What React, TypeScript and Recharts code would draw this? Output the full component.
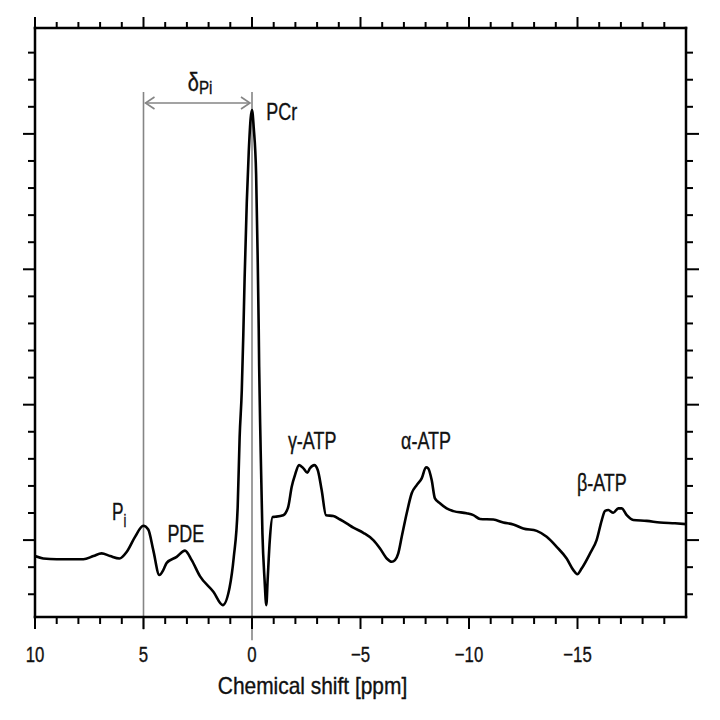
import React from 'react';
import { LineChart, Line, XAxis, YAxis, ReferenceLine, ReferenceDot, Label } from 'recharts';

// Chemical shift (ppm) and signal (arbitrary units, 1 unit = one minor y tick)
const shiftPpm = [
  10.0, 9.62, 9.0, 7.77, 7.31, 6.93, 6.54, 6.11, 5.77, 5.39, 5.01, 4.78, 4.55, 4.27, 4.09, 3.93,
  3.47, 3.09, 2.78, 2.4, 1.78, 1.35, 1.03, 0.84, 0.66, 0.57, 0.47, 0.4, 0.34, 0.24, 0.15, 0.06,
  0.0, -0.08, -0.19, -0.26, -0.31, -0.33, -0.39, -0.48, -0.58, -0.66, -0.72, -0.82, -0.95, -1.06,
  -1.44, -1.67, -1.83, -1.98, -2.17, -2.37, -2.55, -2.67, -2.87, -3.03, -3.21, -3.41, -3.75, -4.06,
  -4.36, -4.67, -5.13, -5.59, -5.9, -6.21, -6.44, -6.59, -6.74, -6.9, -7.13, -7.36, -7.59, -7.82,
  -8.02, -8.12, -8.28, -8.43, -8.66, -8.97, -9.28, -9.89, -10.2, -10.51, -11.12, -11.58, -12.04,
  -12.5, -13.12, -13.58, -14.04, -14.5, -14.81, -14.99, -15.19, -15.58, -15.88, -16.12, -16.27,
  -16.42, -16.65, -16.88, -17.04, -17.27, -17.57, -18.19, -18.8, -19.49, -20.0,
];
const signal = [
  -0.59, -0.68, -0.71, -0.71, -0.59, -0.49, -0.59, -0.68, -0.43, 0.12, 0.53, 0.39, -0.37, -1.29, -1.11, -0.84,
  -0.62, -0.39, -0.74, -1.33, -1.91, -2.4, -1.74, -0.63, 1.22, 3.8, 5.54, 7.6, 9.68, 12.49, 14.33, 15.59,
  15.88, 15.22, 13.5, 10.5, 7.8, 6.4, 3.7, 0.26, -1.48, -2.4, -1.48, 0.0, 0.85, 0.86,
  0.92, 1.23, 1.97, 2.4, 2.77, 2.65, 2.49, 2.65, 2.77, 2.59, 1.85, 0.92, 0.89, 0.76,
  0.62, 0.46, 0.27, 0.0, -0.31, -0.68, -0.8, -0.74, -0.49, 0.12, 0.99, 1.73, 2.03, 2.28,
  2.69, 2.65, 2.22, 1.54, 1.36, 1.17, 1.07, 0.99, 0.92, 0.78, 0.76, 0.65, 0.58,
  0.43, 0.34, 0.12, -0.25, -0.68, -1.11, -1.26, -1.05, -0.49, 0.0, 0.74, 1.08,
  1.11, 1.01, 1.17, 1.17, 0.92, 0.74, 0.71, 0.65, 0.62, 0.59,
];

const xTicks = [10, 9, 8, 7, 6, 5, 4, 3, 2, 1, 0, -1, -2, -3, -4, -5, -6, -7, -8, -9, -10, -11, -12, -13, -14, -15, -16, -17, -18, -19];
const yTicks = [-2, -1, 0, 1, 2, 3, 4, 5, 6, 7, 8, 9, 10, 11, 12, 13, 14, 15, 16, 17, 18];
const xDomain = [-20, 10];
const yDomain = [-2.84, 18.91];

const axisTitle = 'Chemical shift [ppm]';
const peakLabels = [
  { name: 'PDE', x: 3.05, y: -0.06 },
  { name: 'PCr', x: -1.37, y: 15.51 },
  { name: 'γ-ATP', x: -2.77, y: 3.35 },
  { name: 'α-ATP', x: -8.02, y: 3.36 },
  { name: 'β-ATP', x: -16.12, y: 1.81 },
];
const piLabel = { x: 6.45, y: 0.74 };
const deltaLabel = { x: 2.96, y: 16.59 };
const piLineTop = 16.55;
const arrowY = 16.14;
const piShift = 5;
const pcrShift = 0;

const data = shiftPpm.map((x, i) => ({ x, y: signal[i] }));

const FONT = "'Liberation Sans', Arial, sans-serif";
const INK = '#111';
const GREY = '#858585';

const fmt = (v: number) => (v < 0 ? '\u2212' + Math.abs(v) : String(v));
const isMajor = (v: number) => Math.abs(v % 5) < 1e-9;

const NarrowText = ({ x, y, anchor = 'start', size, squeeze = 0.8, children }: any) => (
  <text
    transform={`translate(${x},${y}) scale(${squeeze},1)`}
    x={0}
    y={0}
    textAnchor={anchor}
    fontFamily={FONT}
    fontSize={size}
    fill={INK}
    stroke={INK}
    strokeWidth={0.35}
  >
    {children}
  </text>
);

const BottomTick = (p: any) => {
  const { x, y, payload } = p;
  const v = payload.value;
  const major = isMajor(v);
  return (
    <g>
      <line x1={x} x2={x} y1={y} y2={y + (major ? 12 : 7)} stroke="#000" strokeWidth={2} />
      {major && (
        <NarrowText x={x} y={y + 45} anchor="middle" size={21.5} squeeze={0.78}>
          {fmt(v)}
        </NarrowText>
      )}
    </g>
  );
};
const TopTick = (p: any) => {
  const { x, y, payload } = p;
  const major = isMajor(payload.value);
  return <line x1={x} x2={x} y1={y} y2={y - (major ? 11 : 6)} stroke="#000" strokeWidth={2} />;
};
const LeftTick = (p: any) => {
  const { x, y, payload } = p;
  const major = isMajor(payload.value);
  return <line x1={x} x2={x - (major ? 12 : 7)} y1={y} y2={y} stroke="#000" strokeWidth={2} />;
};
const RightTick = (p: any) => {
  const { x, y, payload } = p;
  const major = isMajor(payload.value);
  return <line x1={x} x2={x + (major ? 13 : 7)} y1={y} y2={y} stroke="#000" strokeWidth={2} />;
};

const ArrowShape = (p: any) => {
  const { x1, y1, x2 } = p;
  const left = Math.min(x1, x2) + 2;
  const right = Math.max(x1, x2) - 2;
  const w = 9;
  const h = 6;
  return (
    <g stroke={GREY} strokeWidth={1.6} fill="none">
      <line x1={left} y1={y1} x2={right} y2={y1} />
      <polyline points={`${left + w},${y1 - h} ${left},${y1} ${left + w},${y1 + h}`} />
      <polyline points={`${right - w},${y1 - h} ${right},${y1} ${right - w},${y1 + h}`} />
    </g>
  );
};

const center = (vb: any) => ({ cx: vb.x + (vb.width || 0) / 2, cy: vb.y + (vb.height || 0) / 2 });

const makePeakLabel = (name: string) => (props: any) => {
  const { cx, cy } = center(props.viewBox);
  return (
    <NarrowText x={cx} y={cy} anchor="middle" size={23} squeeze={0.78}>
      {name}
    </NarrowText>
  );
};

const PiLabel = (props: any) => {
  const { cx, cy } = center(props.viewBox);
  return (
    <NarrowText x={cx} y={cy} size={24} squeeze={0.72}>
      <tspan>P</tspan>
      <tspan fontSize={18} dy={7}>i</tspan>
    </NarrowText>
  );
};

const DeltaLabel = (props: any) => {
  const { cx, cy } = center(props.viewBox);
  return (
    <NarrowText x={cx} y={cy} size={25} squeeze={0.8}>
      <tspan>δ</tspan>
      <tspan fontSize={19} dy={3}>Pi</tspan>
    </NarrowText>
  );
};

const TitleLabel = (props: any) => {
  const vb = props.viewBox;
  return (
    <NarrowText x={vb.x + vb.width / 2 - 48} y={vb.y + 77} anchor="middle" size={23} squeeze={0.91}>
      {axisTitle}
    </NarrowText>
  );
};

const axisLineStyle = { stroke: '#000', strokeWidth: 2.5, strokeLinecap: 'square' as const };

export default function App() {
  return (
    <div style={{ position: 'absolute', left: 0, top: 0, width: 720, height: 720, background: '#fff' }}>
      <LineChart width={720} height={720} data={data} margin={{ top: 8, right: 14, bottom: 13, left: 15 }}>
        <XAxis
          xAxisId="bottom"
          dataKey="x"
          type="number"
          domain={xDomain}
          reversed
          allowDataOverflow
          ticks={xTicks}
          interval={0}
          tickSize={0}
          tickMargin={0}
          tickLine={false}
          axisLine={axisLineStyle}
          tick={<BottomTick />}
          height={90}
          orientation="bottom"
        >
          <Label content={<TitleLabel />} />
        </XAxis>
        <XAxis
          xAxisId="top"
          dataKey="x"
          type="number"
          domain={xDomain}
          reversed
          allowDataOverflow
          ticks={xTicks}
          interval={0}
          tickSize={0}
          tickMargin={0}
          tickLine={false}
          axisLine={axisLineStyle}
          tick={<TopTick />}
          height={20}
          orientation="top"
        />
        <YAxis
          yAxisId="left"
          type="number"
          domain={yDomain}
          allowDataOverflow
          ticks={yTicks}
          interval={0}
          tickSize={0}
          tickMargin={0}
          tickLine={false}
          axisLine={axisLineStyle}
          tick={<LeftTick />}
          width={20}
          orientation="left"
        />
        <YAxis
          yAxisId="right"
          type="number"
          domain={yDomain}
          allowDataOverflow
          ticks={yTicks}
          interval={0}
          tickSize={0}
          tickMargin={0}
          tickLine={false}
          axisLine={axisLineStyle}
          tick={<RightTick />}
          width={20}
          orientation="right"
        />
        <ReferenceLine
          xAxisId="bottom"
          yAxisId="left"
          segment={[{ x: piShift, y: piLineTop }, { x: piShift, y: -3.3 }]}
          stroke={GREY}
          strokeWidth={1.6}
          ifOverflow="visible"
        />
        <ReferenceLine
          xAxisId="bottom"
          yAxisId="left"
          segment={[{ x: pcrShift, y: piLineTop }, { x: pcrShift, y: -3.7 }]}
          stroke={GREY}
          strokeWidth={1.6}
          ifOverflow="visible"
        />
        <ReferenceLine
          xAxisId="bottom"
          yAxisId="left"
          segment={[{ x: piShift, y: arrowY }, { x: pcrShift, y: arrowY }]}
          shape={<ArrowShape />}
          ifOverflow="visible"
        />
        <Line
          xAxisId="top"
          yAxisId="right"
          dataKey="y"
          stroke="none"
          dot={false}
          activeDot={false}
          isAnimationActive={false}
        />
        <Line
          xAxisId="bottom"
          yAxisId="left"
          type="monotoneX"
          dataKey="y"
          stroke="#000"
          strokeWidth={2.6}
          strokeLinejoin="round"
          dot={false}
          activeDot={false}
          isAnimationActive={false}
        />
        {peakLabels.map((l) => (
          <ReferenceDot
            key={l.name}
            xAxisId="bottom"
            yAxisId="left"
            x={l.x}
            y={l.y}
            r={1}
            fill="none"
            stroke="none"
            ifOverflow="visible"
            label={makePeakLabel(l.name)}
          />
        ))}
        <ReferenceDot
          xAxisId="bottom"
          yAxisId="left"
          x={piLabel.x}
          y={piLabel.y}
          r={1}
          fill="none"
          stroke="none"
          ifOverflow="visible"
          label={<PiLabel />}
        />
        <ReferenceDot
          xAxisId="bottom"
          yAxisId="left"
          x={deltaLabel.x}
          y={deltaLabel.y}
          r={1}
          fill="none"
          stroke="none"
          ifOverflow="visible"
          label={<DeltaLabel />}
        />
      </LineChart>
    </div>
  );
}
